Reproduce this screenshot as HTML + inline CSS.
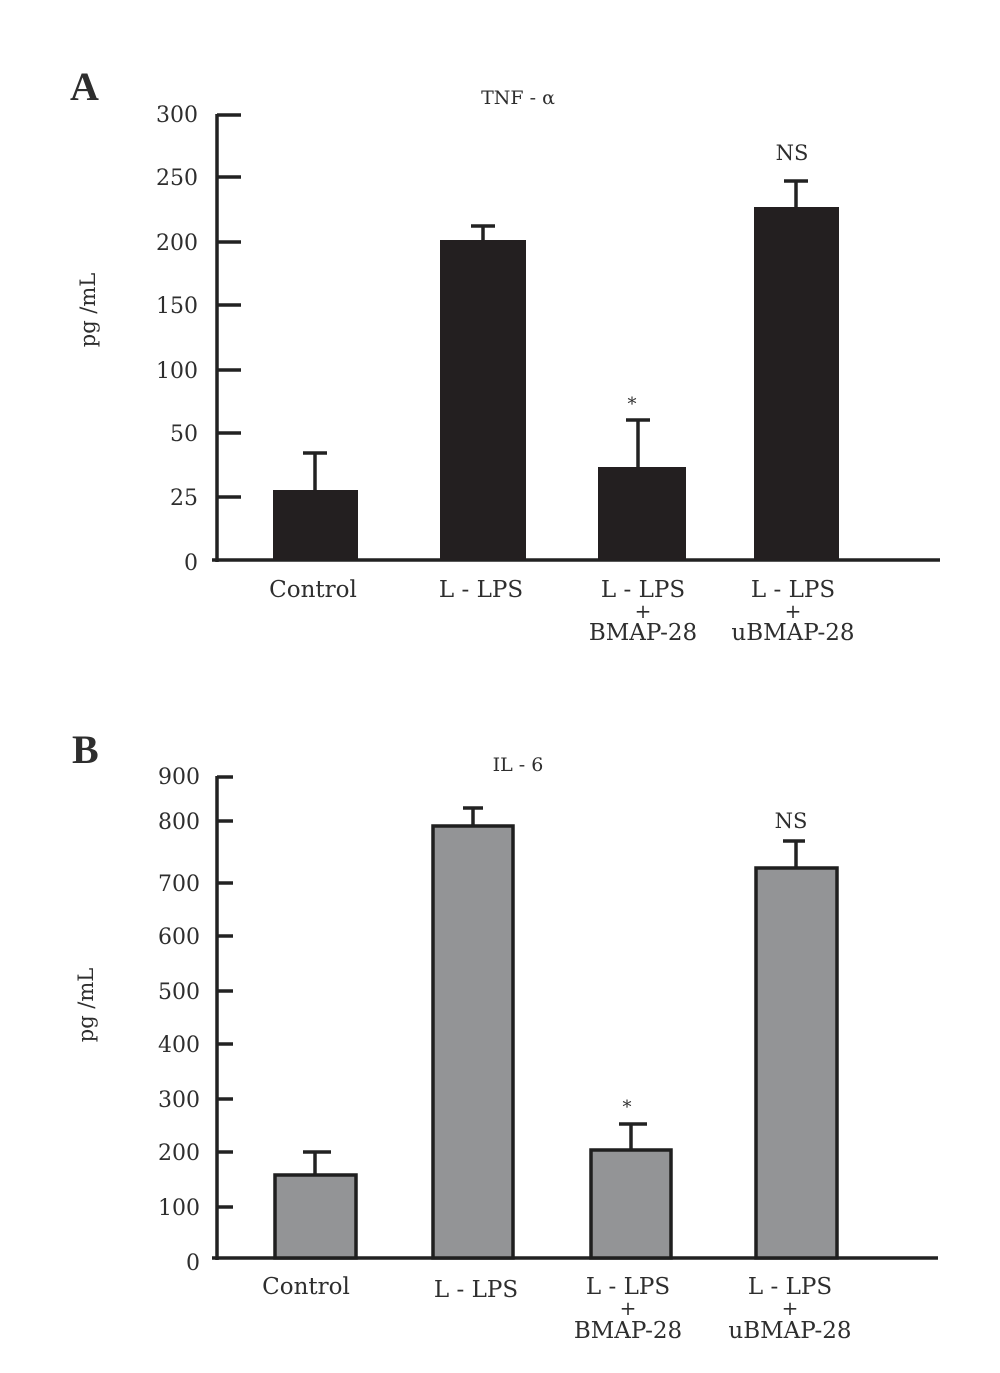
<!DOCTYPE html>
<html><head><meta charset="utf-8"><style>
html,body{margin:0;padding:0;background:#fff;}
svg{display:block;}
text{font-family:"DejaVu Serif","Liberation Serif",serif;fill:#2e2e2e;}
</style></head><body>
<svg width="1000" height="1373" viewBox="0 0 1000 1373" xmlns="http://www.w3.org/2000/svg">
<!-- Panel A -->
<text x="70" y="100" font-size="40" font-weight="bold" fill="#1a1a1a" style="font-family:'Liberation Serif',serif">A</text>
<text x="518" y="104" font-size="19" text-anchor="middle">TNF - α</text>
<text transform="translate(95,310) rotate(-90)" font-size="21" text-anchor="middle">pg /mL</text>
<g font-size="22" text-anchor="end">
<text x="198" y="122">300</text>
<text x="198" y="185">250</text>
<text x="198" y="250">200</text>
<text x="198" y="313">150</text>
<text x="198" y="378">100</text>
<text x="198" y="441">50</text>
<text x="198" y="505">25</text>
<text x="198" y="570">0</text>
</g>
<g stroke="#222" stroke-width="3.5" fill="none">
<line x1="217" y1="114" x2="217" y2="562"/>
<line x1="212" y1="560" x2="940" y2="560"/>
<line x1="217" y1="115" x2="241" y2="115"/>
<line x1="217" y1="177" x2="241" y2="177"/>
<line x1="217" y1="242" x2="241" y2="242"/>
<line x1="217" y1="305" x2="241" y2="305"/>
<line x1="217" y1="370" x2="241" y2="370"/>
<line x1="217" y1="433" x2="241" y2="433"/>
<line x1="217" y1="497" x2="241" y2="497"/>
<line x1="315" y1="453" x2="315" y2="490"/><line x1="303" y1="453" x2="327" y2="453"/>
<line x1="483" y1="226" x2="483" y2="240"/><line x1="471" y1="226" x2="495" y2="226"/>
<line x1="638" y1="420" x2="638" y2="467"/><line x1="626" y1="420" x2="650" y2="420"/>
<line x1="796" y1="181" x2="796" y2="207"/><line x1="784" y1="181" x2="808" y2="181"/>
</g>
<g fill="#231f20">
<rect x="273" y="490" width="85" height="70"/>
<rect x="440" y="240" width="86" height="320"/>
<rect x="598" y="467" width="88" height="93"/>
<rect x="754" y="207" width="85" height="353"/>
</g>
<text x="632" y="410" font-size="18" text-anchor="middle">*</text>
<text x="792" y="160" font-size="21" text-anchor="middle">NS</text>
<g font-size="23" text-anchor="middle">
<text x="313" y="597">Control</text>
<text x="481" y="597">L - LPS</text>
<text x="643" y="597">L - LPS</text><text x="643" y="618" font-size="20">+</text><text x="643" y="640">BMAP-28</text>
<text x="793" y="597">L - LPS</text><text x="793" y="618" font-size="20">+</text><text x="793" y="640">uBMAP-28</text>
</g>
<!-- Panel B -->
<text x="72" y="763" font-size="40" font-weight="bold" fill="#1a1a1a" style="font-family:'Liberation Serif',serif">B</text>
<text x="518" y="771" font-size="19" text-anchor="middle">IL - 6</text>
<text transform="translate(93,1005) rotate(-90)" font-size="21" text-anchor="middle">pg /mL</text>
<g font-size="22" text-anchor="end">
<text x="200" y="784">900</text>
<text x="200" y="829">800</text>
<text x="200" y="891">700</text>
<text x="200" y="944">600</text>
<text x="200" y="999">500</text>
<text x="200" y="1052">400</text>
<text x="200" y="1107">300</text>
<text x="200" y="1160">200</text>
<text x="200" y="1215">100</text>
<text x="200" y="1270">0</text>
</g>
<g stroke="#222" stroke-width="3.5" fill="none">
<line x1="217" y1="776" x2="217" y2="1260"/>
<line x1="212" y1="1258" x2="938" y2="1258"/>
<line x1="217" y1="777" x2="233" y2="777"/>
<line x1="217" y1="821" x2="233" y2="821"/>
<line x1="217" y1="883" x2="233" y2="883"/>
<line x1="217" y1="936" x2="233" y2="936"/>
<line x1="217" y1="991" x2="233" y2="991"/>
<line x1="217" y1="1044" x2="233" y2="1044"/>
<line x1="217" y1="1099" x2="233" y2="1099"/>
<line x1="217" y1="1152" x2="233" y2="1152"/>
<line x1="217" y1="1207" x2="233" y2="1207"/>
<line x1="315" y1="1152" x2="315" y2="1175"/><line x1="303" y1="1152" x2="331" y2="1152"/>
<line x1="473" y1="808" x2="473" y2="826"/><line x1="463" y1="808" x2="483" y2="808"/>
<line x1="631" y1="1124" x2="631" y2="1150"/><line x1="619" y1="1124" x2="647" y2="1124"/>
<line x1="796" y1="841" x2="796" y2="868"/><line x1="783" y1="841" x2="805" y2="841"/>
</g>
<g fill="#939496" stroke="#1f1f1f" stroke-width="3.5">
<rect x="275" y="1175" width="81" height="83"/>
<rect x="433" y="826" width="80" height="432"/>
<rect x="591" y="1150" width="80" height="108"/>
<rect x="756" y="868" width="81" height="390"/>
</g>
<text x="627" y="1113" font-size="18" text-anchor="middle">*</text>
<text x="791" y="828" font-size="21" text-anchor="middle">NS</text>
<g font-size="23" text-anchor="middle">
<text x="306" y="1294">Control</text>
<text x="476" y="1297">L - LPS</text>
<text x="628" y="1294">L - LPS</text><text x="628" y="1315" font-size="20">+</text><text x="628" y="1338">BMAP-28</text>
<text x="790" y="1294">L - LPS</text><text x="790" y="1315" font-size="20">+</text><text x="790" y="1338">uBMAP-28</text>
</g>
</svg>
</body></html>
